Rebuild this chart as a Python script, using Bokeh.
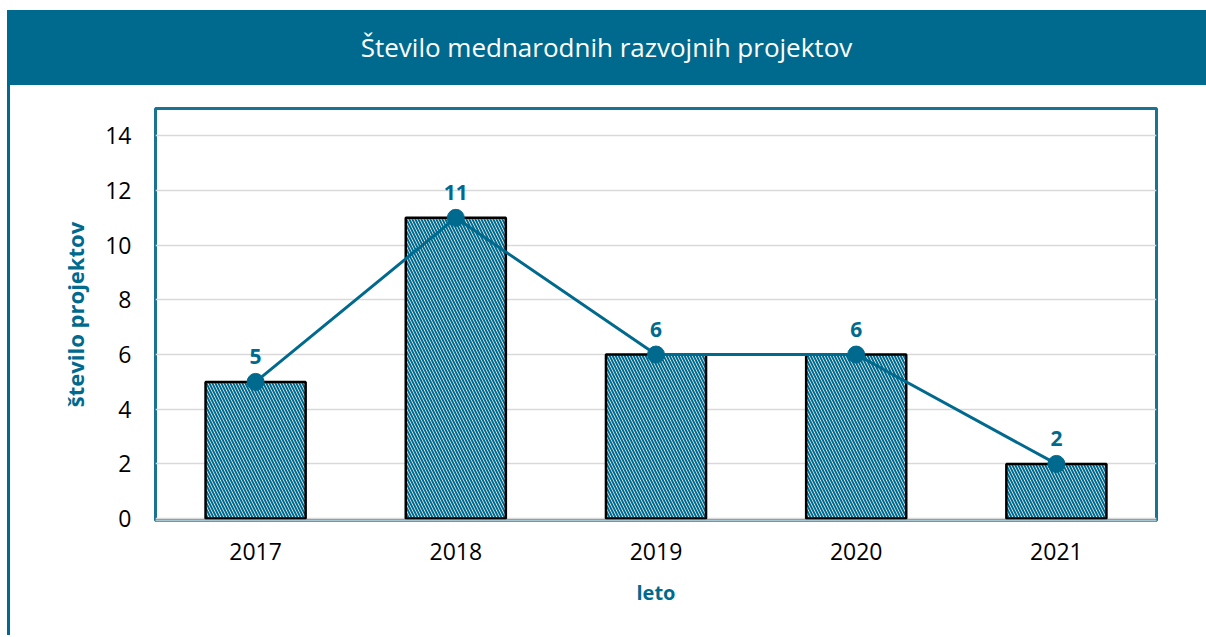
from bokeh.plotting import figure
from bokeh.models import FactorRange, Range1d, FixedTicker, Div, ColumnDataSource, LabelSet
from bokeh.core.properties import value
from bokeh.layouts import column, row
from bokeh.embed import file_html
from bokeh.resources import INLINE

years = ["2017", "2018", "2019", "2020", "2021"]
counts = [5, 11, 6, 6, 2]
y_ticks = [0, 2, 4, 6, 8, 10, 12, 14]
title_text = "Število mednarodnih razvojnih projektov"
x_label = "leto"
y_label = "število projektov"

TEAL = "#006a8e"
FONT = "Open Sans"

src = ColumnDataSource(dict(x=years, y=counts, lab=[str(c) for c in counts]))

header = Div(
    text=title_text,
    width=1199, height=75,
    margin=(10, 0, 0, 7),
    styles={
        "background-color": TEAL, "color": "white",
        "font-family": FONT, "font-size": "26px",
        "display": "flex", "align-items": "center", "justify-content": "center",
        "width": "1199px", "height": "75px",
    },
)

p = figure(
    x_range=FactorRange(*years, range_padding=0),
    y_range=Range1d(-0.07, 15.0),
    width=1196, height=550,
    min_border_left=145, min_border_right=50, min_border_top=23, min_border_bottom=115,
    output_backend="svg", toolbar_location=None,
)
p.outline_line_color = "#1b7394"
p.outline_line_width = 3
p.background_fill_color = "white"
p.border_fill_color = "white"

p.vbar(x="x", top="y", width=0.5, source=src,
       fill_color="white", line_color="black", line_width=2.5,
       hatch_pattern="left_diagonal_line", hatch_color=TEAL,
       hatch_scale=6, hatch_weight=2.0)
p.line(x="x", y="y", source=src, line_color=TEAL, line_width=3)
p.scatter(x="x", y="y", source=src, size=17, fill_color=TEAL, line_color=TEAL)

labels = LabelSet(x="x", y="y", text="lab", source=src, y_offset=18,
                  text_align="center", text_baseline="bottom",
                  text_color=TEAL, text_font=value(FONT), text_font_style="bold",
                  text_font_size="21px")
p.add_layout(labels)

p.xgrid.grid_line_color = None
p.ygrid.grid_line_color = "#d9d9d9"
p.ygrid.grid_line_width = 1.5
p.yaxis.ticker = FixedTicker(ticks=y_ticks)

p.yaxis.axis_line_color = None
p.yaxis.major_tick_line_color = None
p.yaxis.minor_tick_line_color = None
p.yaxis.major_label_standoff = 18
p.yaxis.major_label_text_font = FONT
p.yaxis.major_label_text_font_size = "23px"
p.yaxis.major_label_text_color = "black"
p.yaxis.axis_label = y_label
p.yaxis.axis_label_text_font = FONT
p.yaxis.axis_label_text_font_size = "22px"
p.yaxis.axis_label_text_font_style = "bold"
p.yaxis.axis_label_text_color = TEAL
p.yaxis.axis_label_standoff = 12

p.xaxis.axis_line_color = "#a9c6d3"
p.xaxis.axis_line_width = 2
p.xaxis.major_tick_line_color = None
p.xaxis.minor_tick_line_color = None
p.xaxis.major_label_standoff = 16
p.xaxis.major_label_text_font = FONT
p.xaxis.major_label_text_font_size = "23px"
p.xaxis.major_label_text_color = "black"
p.xaxis.axis_label = x_label
p.xaxis.axis_label_text_font = FONT
p.xaxis.axis_label_text_font_size = "20px"
p.xaxis.axis_label_text_font_style = "bold"
p.xaxis.axis_label_text_color = TEAL
p.xaxis.axis_label_standoff = 16

border = Div(text="", width=3, height=550, margin=(0, 0, 0, 7),
             styles={"background-color": TEAL, "width": "3px", "height": "550px"})

layout = column(header, row(border, p, spacing=0), spacing=0)

open("out.html", "w").write(file_html(layout, INLINE))
